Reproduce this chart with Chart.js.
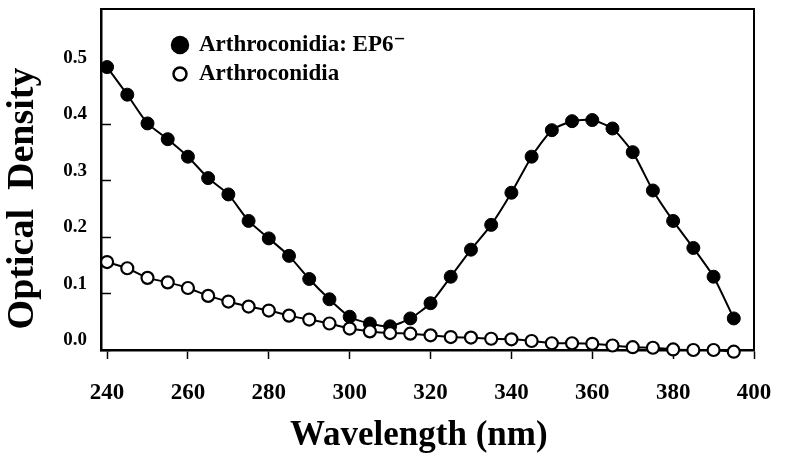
<!DOCTYPE html>
<html>
<head>
<meta charset="utf-8">
<script src="https://cdn.jsdelivr.net/npm/chart.js@4.4.1/dist/chart.umd.min.js"></script>
<style>
    body { margin: 0; background: #ffffff; }
    #wrap { width: 800px; height: 465px; }
</style>
</head>
<body>
<div id="wrap"><canvas id="spectrum" width="800" height="465"></canvas></div>
<script>
// wavelengths (nm) sampled every 5 nm
const wavelengths = [240, 245, 250, 255, 260, 265, 270, 275, 280, 285, 290, 295, 300, 305, 310, 315,
                     320, 325, 330, 335, 340, 345, 350, 355, 360, 365, 370, 375, 380, 385, 390, 395];

// optical density, arthroconidia with EP6 knocked out (filled circles)
const odEP6 = [0.502, 0.453, 0.402, 0.374, 0.343, 0.305, 0.276, 0.229, 0.198, 0.167, 0.126, 0.090, 0.059, 0.047, 0.042, 0.056,
               0.083, 0.130, 0.178, 0.222, 0.279, 0.343, 0.390, 0.406, 0.408, 0.393, 0.351, 0.283, 0.229, 0.181, 0.130, 0.056];

// optical density, wild type arthroconidia (open circles)
const odWild = [0.156, 0.145, 0.128, 0.120, 0.110, 0.096, 0.086, 0.077, 0.070, 0.061, 0.054, 0.047, 0.038, 0.033, 0.030, 0.029,
                0.026, 0.023, 0.022, 0.020, 0.019, 0.016, 0.012, 0.012, 0.011, 0.008, 0.005, 0.004, 0.001, 0.000, 0.000, -0.003];

const xTicks = [240, 260, 280, 300, 320, 340, 360, 380, 400];
const yTicks = [0.0, 0.1, 0.2, 0.3, 0.4, 0.5];

const seriesLabels = ['Arthroconidia: EP6\u207B', 'Arthroconidia'];

const serif = '"Liberation Serif", "DejaVu Serif", serif';

function toPoints(values) {
    let points = [];
    for (let k = 0; k < wavelengths.length; k++) {
        points.push({x: wavelengths[k], y: values[k]});
    }
    return points;
}

// box round the plot area
const framePlugin = {
    id: 'frame',
    afterDraw(chart) {
        const a = chart.chartArea;
        const ctx = chart.ctx;
        ctx.save();
        ctx.strokeStyle = '#000000';
        ctx.lineWidth = 2;
        ctx.beginPath();
        ctx.moveTo(a.left, a.top);
        ctx.lineTo(a.right, a.top);
        ctx.lineTo(a.right, a.bottom);
        ctx.stroke();
        ctx.restore();
    }
};

// legend drawn inside the plot, top left
const insideLegend = {
    id: 'insideLegend',
    afterDraw(chart) {
        const ctx = chart.ctx;
        const rows = [{cy: 45, radius: 8}, {cy: 74, radius: 6.5}];
        ctx.save();
        ctx.font = 'bold 23px ' + serif;
        ctx.textBaseline = 'middle';
        ctx.fillStyle = '#000000';
        chart.data.datasets.forEach(function(ds, i) {
            const row = rows[i];
            ctx.beginPath();
            ctx.arc(180, row.cy, row.radius, 0, Math.PI * 2);
            ctx.fillStyle = ds.pointBackgroundColor;
            ctx.fill();
            ctx.lineWidth = 2.5;
            ctx.strokeStyle = '#000000';
            ctx.stroke();
            ctx.fillStyle = '#000000';
            ctx.fillText(ds.label, 199, row.cy);
        });
        ctx.restore();
    }
};

const data = {
    datasets: [{
        label: seriesLabels[0],
        data: toPoints(odEP6),
        borderColor: '#000000',
        borderWidth: 2,
        pointRadius: 6.5,
        pointBackgroundColor: '#000000',
        pointBorderColor: '#000000',
        pointBorderWidth: 1,
        tension: 0.2,
        clip: false,
        order: 1
    }, {
        label: seriesLabels[1],
        data: toPoints(odWild),
        borderColor: '#000000',
        borderWidth: 2,
        pointRadius: 6,
        pointBackgroundColor: '#ffffff',
        pointBorderColor: '#000000',
        pointBorderWidth: 2.2,
        tension: 0.2,
        clip: false,
        order: 0
    }]
};

const config = {
    type: 'line',
    data: data,
    plugins: [framePlugin, insideLegend],
    options: {
        responsive: false,
        animation: false,
        devicePixelRatio: 1,
        layout: { padding: { left: 0, top: 9, right: 46, bottom: 0 } },
        plugins: {
            legend: { display: false },
            tooltip: { enabled: false }
        },
        scales: {
            x: {
                type: 'linear',
                min: 238.5,
                max: 400,
                afterBuildTicks: function(scale) {
                    scale.ticks = xTicks.map((v) => ({value: v}));
                },
                afterFit: function(scale) {
                    scale.height = 115;
                    scale.paddingLeft = 0;
                    scale.paddingRight = 0;
                },
                grid: { drawOnChartArea: false, tickLength: 9, tickWidth: 1.5, tickColor: '#000000' },
                border: { color: '#000000', width: 2.5 },
                ticks: {
                    color: '#000000',
                    padding: 20,
                    maxRotation: 0,
                    font: { family: serif, size: 23, weight: 'bold' },
                    callback: (value) => String(value)
                },
                title: {
                    display: true,
                    text: 'Wavelength (nm)\u2002',
                    color: '#000000',
                    padding: { top: 0, bottom: 8 },
                    font: { family: serif, size: 35, weight: 'bold' }
                }
            },
            y: {
                min: 0,
                max: 0.605,
                afterBuildTicks: function(scale) {
                    scale.ticks = yTicks.map((v) => ({value: v}));
                },
                afterFit: function(scale) {
                    scale.width = 101;
                    scale.paddingTop = 0;
                    scale.paddingBottom = 0;
                },
                grid: { drawOnChartArea: false, tickLength: -10, tickWidth: 1.5, tickColor: '#000000' },
                border: { color: '#000000', width: 2.5 },
                ticks: {
                    color: '#000000',
                    padding: 24,
                    labelOffset: -10,
                    font: { family: serif, size: 19, weight: 'bold' },
                    callback: (value) => value.toFixed(1)
                },
                title: {
                    display: true,
                    text: 'Optical  Density\u2003',
                    color: '#000000',
                    padding: 0,
                    font: { family: serif, size: 38, weight: 'bold' }
                }
            }
        }
    }
};

window.onload = function() {
    new Chart(document.getElementById('spectrum'), config);
};
</script>
</body>
</html>
